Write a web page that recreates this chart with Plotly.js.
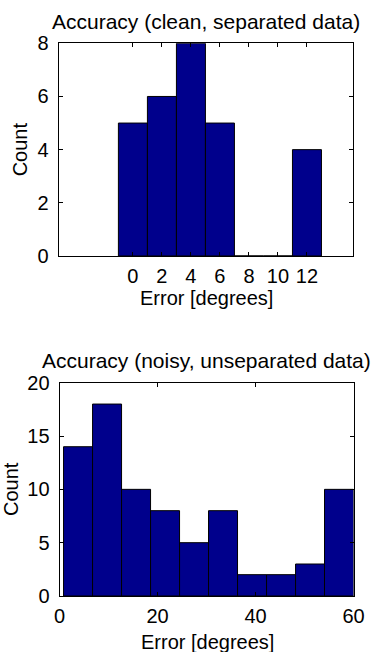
<!DOCTYPE html>
<html>
<head>
<meta charset="utf-8">
<script src="https://cdn.plot.ly/plotly-3.0.1.min.js"></script>
<style>html,body{margin:0;padding:0;background:#fff}#chart{width:376px;height:652px}</style>
</head>
<body>
<div id="chart"></div>
<script>
// Top histogram: clean, separated data
const cleanCenters = [0, 2, 4, 6, 8, 10, 12];
const cleanCounts = [5, 6, 8, 5, 0, 0, 4];
const cleanTicks = [0, 2, 4, 6, 8, 10, 12];
const cleanYTicks = [0, 2, 4, 6, 8];

// Bottom histogram: noisy, unseparated data
const noisyCenters = [3.78, 9.70, 15.62, 21.54, 27.46, 33.37, 39.29, 45.21, 51.13, 57.04];
const noisyCounts = [14, 18, 10, 8, 5, 8, 2, 2, 3, 10];
const noisyTicks = [0, 20, 40, 60];
const noisyYTicks = [0, 5, 10, 15, 20];

const titles = ['Accuracy (clean, separated data)', 'Accuracy (noisy, unseparated data)'];
const xTitle = 'Error [degrees]';
const yTitle = 'Count';

const barColor = 'rgb(0,0,140)';
const fontFam = '"Liberation Sans", Arial, Helvetica, sans-serif';
const F = 20;

const traces = [
  {type: 'bar', x: cleanCenters, y: cleanCounts, width: 2, xaxis: 'x', yaxis: 'y',
   marker: {color: barColor, line: {color: '#000', width: 1}}, hoverinfo: 'x+y'},
  {type: 'bar', x: noisyCenters, y: noisyCounts, width: 5.918, xaxis: 'x2', yaxis: 'y2',
   marker: {color: barColor, line: {color: '#000', width: 1}}, hoverinfo: 'x+y'}
];

const axBase = {
  showgrid: false, zeroline: false, showline: true, linecolor: '#000', linewidth: 1,
  mirror: 'ticks', ticks: 'inside', ticklen: 4, tickcolor: '#000', tickwidth: 1,
  tickfont: {family: fontFam, size: F, color: '#000'}, fixedrange: true, automargin: false
};

function ann(text, x, yPx, size) {
  return {text: text, xref: 'paper', yref: 'paper', x: x, y: 1 - yPx / 652,
    xanchor: 'center', yanchor: 'middle', showarrow: false,
    font: {family: fontFam, size: size, color: '#000'}};
}

const layout = {
  width: 376, height: 652,
  margin: {l: 0, r: 0, t: 0, b: 0},
  paper_bgcolor: '#fff', plot_bgcolor: '#fff',
  showlegend: false, bargap: 0,
  font: {family: fontFam, size: F, color: '#000'},
  xaxis: Object.assign({}, axBase, {
    domain: [0.1556, 0.9375], anchor: 'y', range: [-5.13, 15.14],
    tickmode: 'array', tickvals: cleanTicks, ticktext: cleanTicks.map(String),
    ticklabelstandoff: 2
  }),
  yaxis: Object.assign({}, axBase, {
    domain: [0.6074, 0.9336], anchor: 'x', range: [0, 8],
    tickmode: 'array', tickvals: cleanYTicks, ticktext: cleanYTicks.map(String),
    ticklabelstandoff: 5,
    title: {text: yTitle, font: {family: fontFam, size: F}, standoff: 4}
  }),
  xaxis2: Object.assign({}, axBase, {
    domain: [0.1583, 0.9402], anchor: 'y2', range: [0, 60],
    tickmode: 'array', tickvals: noisyTicks, ticktext: noisyTicks.map(String),
    ticklabelstandoff: 2
  }),
  yaxis2: Object.assign({}, axBase, {
    domain: [0.0859, 0.4130], anchor: 'x2', range: [0, 20],
    tickmode: 'array', tickvals: noisyYTicks, ticktext: noisyYTicks.map(String),
    ticklabelstandoff: 5,
    title: {text: yTitle, font: {family: fontFam, size: F}, standoff: 6}
  }),
  annotations: [
    ann(titles[0], 0.548, 21, 21),
    ann(titles[1], 0.548, 360, 21),
    ann(xTitle, 0.549, 298, F),
    ann(xTitle, 0.552, 642, F)
  ]
};

Plotly.newPlot('chart', traces, layout, {displayModeBar: false, staticPlot: true});
</script>
</body>
</html>
